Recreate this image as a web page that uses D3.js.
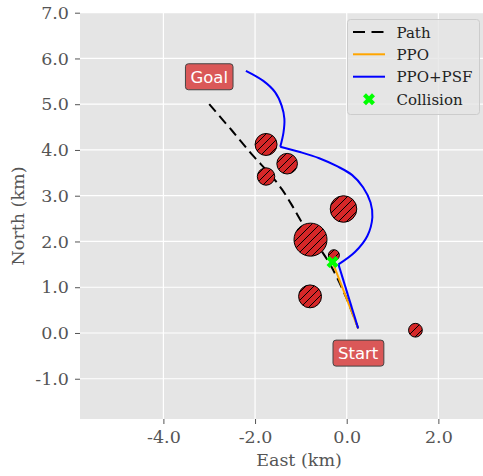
<!DOCTYPE html>
<html>
<head>
<meta charset="utf-8">
<script src="https://cdn.jsdelivr.net/npm/d3@7"></script>
<style>
  body { margin: 0; background: #fff; }
  svg text { font-family: "DejaVu Serif", serif; }
</style>
</head>
<body>
<div id="chart"></div>
<script>
// reference path (dashed)
const pathX = [-3.0, -2.5, -2.04, -1.7, -1.42, -1.2, -0.98, -0.62, -0.33, 0.0, 0.25];
const pathY = [5.0, 4.42, 3.87, 3.5, 3.15, 2.8, 2.42, 1.9, 1.44, 0.75, 0.1];

// PPO (stops at collision)
const ppoX = [0.25, -0.31];
const ppoY = [0.1, 1.55];

// PPO+PSF trajectory, corners mark sharp turns
const psfX = [0.25, -0.18, 0.18, 0.45, 0.56, 0.52, 0.36, 0.12, -0.2, -0.6, -1.0, -1.45, -1.38, -1.36, -1.42, -1.56, -1.82, -2.2];
const psfY = [0.1, 1.50, 1.77, 2.12, 2.53, 2.85, 3.18, 3.45, 3.64, 3.82, 3.95, 4.07, 4.38, 4.68, 4.97, 5.26, 5.51, 5.73];
const psfCorners = [0, 1, 11, 17];

// obstacles
const obsX = [-1.76, -1.30, -1.76, -0.07, -0.79, -0.28, -0.80, 1.50];
const obsY = [4.12, 3.70, 3.42, 2.71, 2.04, 1.70, 0.80, 0.06];
const obsR = [0.24, 0.225, 0.19, 0.29, 0.36, 0.12, 0.25, 0.15];

const collision = [-0.31, 1.55];
const startPt = [0.25, 0.1];
const goalPt = [-3.0, 5.0];

const xTicks = [-4, -2, 0, 2];
const yTicks = [-1, 0, 1, 2, 3, 4, 5, 6, 7];
const legendLabels = ['Path', 'PPO', 'PPO+PSF', 'Collision'];

const W = 483, H = 476;
const svg = d3.select('#chart').append('svg')
  .attr('width', W).attr('height', H);

const x = d3.scaleLinear().domain([-5.82, 2.974]).range([80, 483]);
const y = d3.scaleLinear().domain([-1.88, 7.0]).range([419, 12.7]);

const defs = svg.append('defs');
defs.append('clipPath').attr('id', 'clip')
  .append('rect').attr('x', 80).attr('y', 12.7).attr('width', 403).attr('height', 419 - 12.7);
const hatch = defs.append('pattern').attr('id', 'hatch')
  .attr('patternUnits', 'userSpaceOnUse').attr('width', 8).attr('height', 8);
hatch.append('rect').attr('width', 8).attr('height', 8).attr('fill', '#d62728');
hatch.append('path').attr('d', 'M-2,2 L2,-2 M0,8 L8,0 M6,10 L10,6')
  .attr('stroke', '#000').attr('stroke-width', 1);

// background
svg.append('rect').attr('x', 80).attr('y', 12.7).attr('width', 403).attr('height', 419 - 12.7)
  .attr('fill', '#e5e5e5');

// grid
svg.append('g').selectAll('line').data(xTicks).enter().append('line')
  .attr('x1', d => x(d)).attr('x2', d => x(d)).attr('y1', 12.7).attr('y2', 419)
  .attr('stroke', '#fff').attr('stroke-width', 1.2);
svg.append('g').selectAll('line').data(yTicks).enter().append('line')
  .attr('y1', d => y(d)).attr('y2', d => y(d)).attr('x1', 80).attr('x2', 483)
  .attr('stroke', '#fff').attr('stroke-width', 1.2);

// axes
const xAxis = svg.append('g').attr('transform', 'translate(0,419)')
  .call(d3.axisBottom(x).tickValues(xTicks).tickSize(5).tickPadding(7));
const yAxis = svg.append('g').attr('transform', 'translate(80,0)')
  .call(d3.axisLeft(y).tickValues(yTicks).tickSize(5).tickPadding(6));
[xAxis, yAxis].forEach(a => {
  a.select('.domain').remove();
  a.selectAll('.tick line').attr('stroke', '#555');
  a.selectAll('.tick text').attr('fill', '#555').style('font-size', '17.5px')
    .style('font-family', '"DejaVu Serif", serif')
    .text(d => d.toFixed(1));
});

svg.append('text').attr('x', 299).attr('y', 466)
  .attr('text-anchor', 'middle').attr('fill', '#555').style('font-size', '17.5px')
  .text('East (km)');
svg.append('text').attr('transform', 'translate(24,216) rotate(-90)')
  .attr('text-anchor', 'middle').attr('fill', '#555').style('font-size', '17.5px')
  .text('North (km)');

const plot = svg.append('g').attr('clip-path', 'url(#clip)');
const line = d3.line().x(d => x(d[0])).y(d => y(d[1]));
const curve = d3.line().x(d => x(d[0])).y(d => y(d[1])).curve(d3.curveCatmullRom.alpha(0.5));

// dashed reference path
plot.append('path').datum(pathX.map((v, i) => [v, pathY[i]]))
  .attr('d', curve).attr('fill', 'none').attr('stroke', '#000')
  .attr('stroke-width', 2).attr('stroke-dasharray', '10,5.5');

// PPO
plot.append('path').datum(ppoX.map((v, i) => [v, ppoY[i]]))
  .attr('d', line).attr('fill', 'none').attr('stroke', 'orange').attr('stroke-width', 2);

// PPO+PSF, drawn piece by piece between corners
const psfPts = psfX.map((v, i) => [v, psfY[i]]);
for (let k = 0; k < psfCorners.length - 1; k++) {
  const seg = psfPts.slice(psfCorners[k], psfCorners[k + 1] + 1);
  plot.append('path').datum(seg)
    .attr('d', seg.length > 2 ? curve : line)
    .attr('fill', 'none').attr('stroke', '#0000ff').attr('stroke-width', 2);
}

// obstacles
plot.append('g').selectAll('circle').data(obsX.map((v, i) => [v, obsY[i], obsR[i]]))
  .enter().append('circle')
  .attr('cx', d => x(d[0])).attr('cy', d => y(d[1]))
  .attr('r', d => x(d[2]) - x(0))
  .attr('fill', 'url(#hatch)').attr('stroke', '#000').attr('stroke-width', 1);

// collision marker
const cross = d3.symbol().type(d3.symbolCross).size(90);
plot.append('path').attr('d', cross)
  .attr('transform', `translate(${x(collision[0])},${y(collision[1])}) rotate(45)`)
  .attr('fill', '#00ff00');

// start / goal labels
function tag(text, px, py) {
  const g = svg.append('g').attr('transform', `translate(${x(px)},${y(py)})`);
  const t = g.append('text').attr('text-anchor', 'middle').attr('dy', '0.36em')
    .attr('fill', '#fff').style('font-family', '"DejaVu Sans", sans-serif')
    .style('font-size', '16.5px').text(text);
  const bb = t.node().getBBox();
  g.insert('rect', 'text')
    .attr('x', bb.x - 5).attr('y', -13).attr('width', bb.width + 10).attr('height', 26)
    .attr('rx', 3).attr('fill', 'rgb(218,88,88)').attr('stroke', '#444').attr('stroke-width', 1);
}
tag('Goal', goalPt[0], goalPt[1] + 0.6);
tag('Start', startPt[0], startPt[1] - 0.54);

// legend
const lg = svg.append('g');
lg.append('rect').attr('x', 347.5).attr('y', 19.5).attr('width', 132).attr('height', 95)
  .attr('rx', 3).attr('fill', 'rgba(229,229,229,0.8)').attr('stroke', '#cccccc');
const rowY = [32, 54.3, 76.7, 99.3];
lg.append('line').attr('x1', 353).attr('x2', 385).attr('y1', rowY[0]).attr('y2', rowY[0])
  .attr('stroke', '#000').attr('stroke-width', 2).attr('stroke-dasharray', '12,6.5');
lg.append('line').attr('x1', 353).attr('x2', 385).attr('y1', rowY[1]).attr('y2', rowY[1])
  .attr('stroke', 'orange').attr('stroke-width', 2);
lg.append('line').attr('x1', 353).attr('x2', 385).attr('y1', rowY[2]).attr('y2', rowY[2])
  .attr('stroke', '#0000ff').attr('stroke-width', 2);
lg.append('path').attr('d', cross)
  .attr('transform', `translate(369,${rowY[3]}) rotate(45)`).attr('fill', '#00ff00');
lg.selectAll('text.lab').data(legendLabels).enter().append('text')
  .attr('class', 'lab').attr('x', 396.5).attr('y', (d, i) => rowY[i] + 5.5)
  .attr('fill', '#222').style('font-size', '15px').text(d => d);
</script>
</body>
</html>
